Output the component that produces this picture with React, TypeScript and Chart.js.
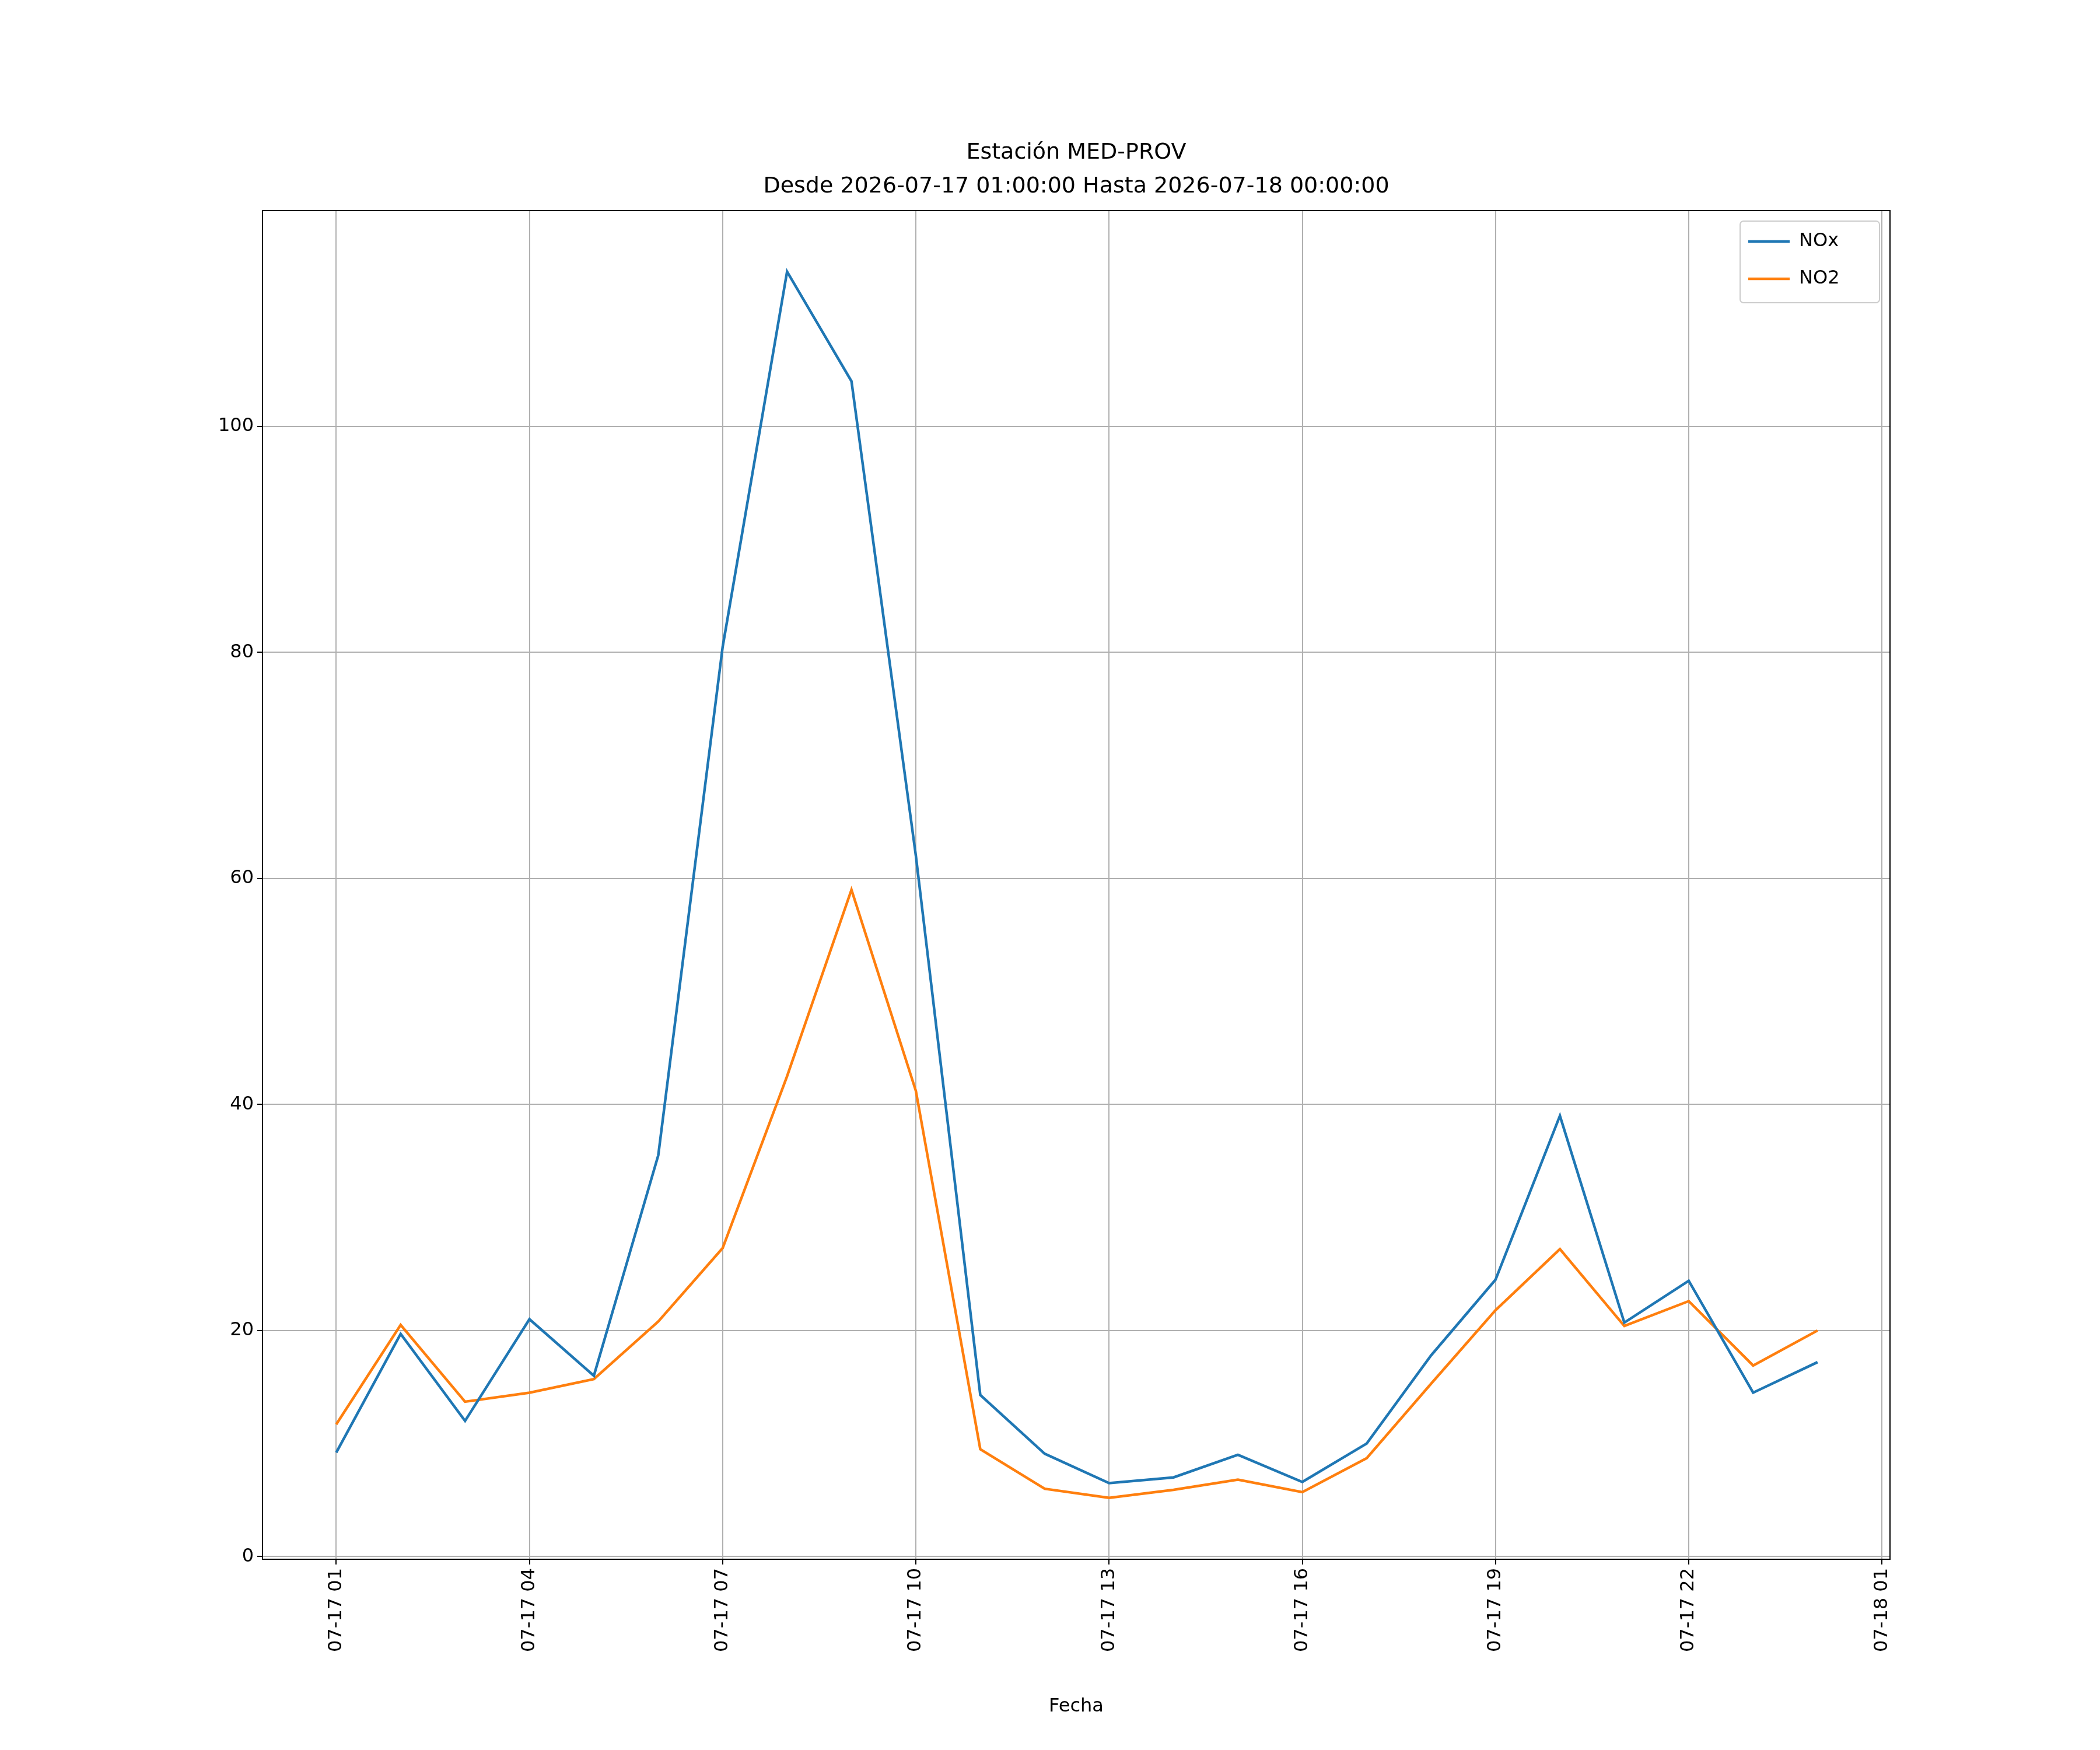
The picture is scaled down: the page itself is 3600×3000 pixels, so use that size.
import React, { useEffect, useRef } from "react";
import { Chart, registerables } from "chart.js";
Chart.register(...registerables);

const hours = [0,1,2,3,4,5,6,7,8,9,10,11,12,13,14,15,16,17,18,19,20,21,22,23];
const nox = [9.2,19.7,12,21,16,35.5,80.5,113.7,104,62,14.3,9.1,6.5,7,9,6.6,10,17.8,24.5,39,20.7,24.4,14.5,17.2];
const no2 = [11.7,20.5,13.7,14.5,15.7,20.8,27.3,42.5,59,41.2,9.5,6,5.2,5.9,6.8,5.7,8.7,15.3,21.8,27.2,20.4,22.6,16.9,20];
const xTicks = [0,3,6,9,12,15,18,21,24];
const xTickLabels = ["07-17 01","07-17 04","07-17 07","07-17 10","07-17 13","07-17 16","07-17 19","07-17 22","07-18 01"];
const yTicks = [0,20,40,60,80,100];

const FONT = "'DejaVu Sans', sans-serif";

export default function App() {
  const ref = useRef<HTMLCanvasElement>(null);
  useEffect(() => {
    const deco = {
      id: "deco",
      afterDraw(c: any) {
        const ctx = c.ctx, a = c.chartArea;
        ctx.save();
        ctx.strokeStyle = "#000"; ctx.lineWidth = 2;
        ctx.strokeRect(a.left, a.top, a.right - a.left, a.bottom - a.top);
        ctx.fillStyle = "#000"; ctx.textAlign = "center"; ctx.textBaseline = "middle";
        ctx.font = `38px ${FONT}`;
        const cx = (a.left + a.right) / 2;
        ctx.fillText("Estación MED-PROV", cx, 262);
        ctx.fillText("Desde 2026-07-17 01:00:00 Hasta 2026-07-18 00:00:00", cx, 320);
        ctx.font = `32px ${FONT}`;
        ctx.fillText("Fecha", cx, 2926);
        // legend
        ctx.fillStyle = "#fff"; ctx.strokeStyle = "#ccc"; ctx.lineWidth = 2;
        ctx.beginPath(); ctx.roundRect(2983, 379, 239, 140, 6); ctx.fill(); ctx.stroke();
        const items = [["NOx", "#1f77b4", 414], ["NO2", "#ff7f0e", 478]] as const;
        for (const [t, col, y] of items) {
          ctx.strokeStyle = col; ctx.lineWidth = 4.5;
          ctx.beginPath(); ctx.moveTo(2997, y); ctx.lineTo(3068, y); ctx.stroke();
          ctx.fillStyle = "#000"; ctx.textAlign = "left"; ctx.textBaseline = "middle";
          ctx.font = `32px ${FONT}`;
          ctx.fillText(t, 3084, y);
        }
        ctx.restore();
      },
    };
    const chart = new Chart(ref.current!, {
      type: "line",
      data: {
        datasets: [
          { label: "NOx", data: hours.map((h, i) => ({ x: h, y: nox[i] })), borderColor: "#1f77b4", borderWidth: 4.5, pointRadius: 0, tension: 0 },
          { label: "NO2", data: hours.map((h, i) => ({ x: h, y: no2[i] })), borderColor: "#ff7f0e", borderWidth: 4.5, pointRadius: 0, tension: 0 },
        ],
      },
      options: {
        animation: false, responsive: false, devicePixelRatio: 1,
        layout: { padding: { top: 361, left: 0, right: 3600 - 3240, bottom: 0 } },
        plugins: { legend: { display: false }, title: { display: false }, tooltip: { enabled: false } },
        scales: {
          x: {
            type: "linear", min: -1.145, max: 24.125,
            afterBuildTicks: (s: any) => { s.ticks = xTicks.map(v => ({ value: v })); },
            afterFit: (s: any) => { s.height = 3000 - 2673; },
            ticks: { autoSkip: false, minRotation: 90, maxRotation: 90, color: "#000", font: { size: 32, family: FONT }, padding: 6,
              callback: (v: any) => xTickLabels[xTicks.indexOf(Number(v))] ?? "" },
            grid: { color: "#b0b0b0", lineWidth: 2, tickColor: "#000", tickLength: 9 },
            border: { display: true, color: "#000", width: 2 },
          },
          y: {
            min: -0.24, max: 119.1,
            afterBuildTicks: (s: any) => { s.ticks = yTicks.map(v => ({ value: v })); },
            afterFit: (s: any) => { s.width = 450; },
            ticks: { color: "#000", font: { size: 32, family: FONT }, padding: 6 },
            grid: { color: "#b0b0b0", lineWidth: 2, tickColor: "#000", tickLength: 9 },
            border: { display: true, color: "#000", width: 2 },
          },
        },
      },
      plugins: [deco],
    } as any);
    return () => chart.destroy();
  }, []);
  return (
    <div style={{ position: "absolute", left: 0, top: 0, background: "#fff" }}>
      <canvas ref={ref} width={3600} height={3000} style={{ width: 3600, height: 3000, display: "block" }} />
    </div>
  );
}
